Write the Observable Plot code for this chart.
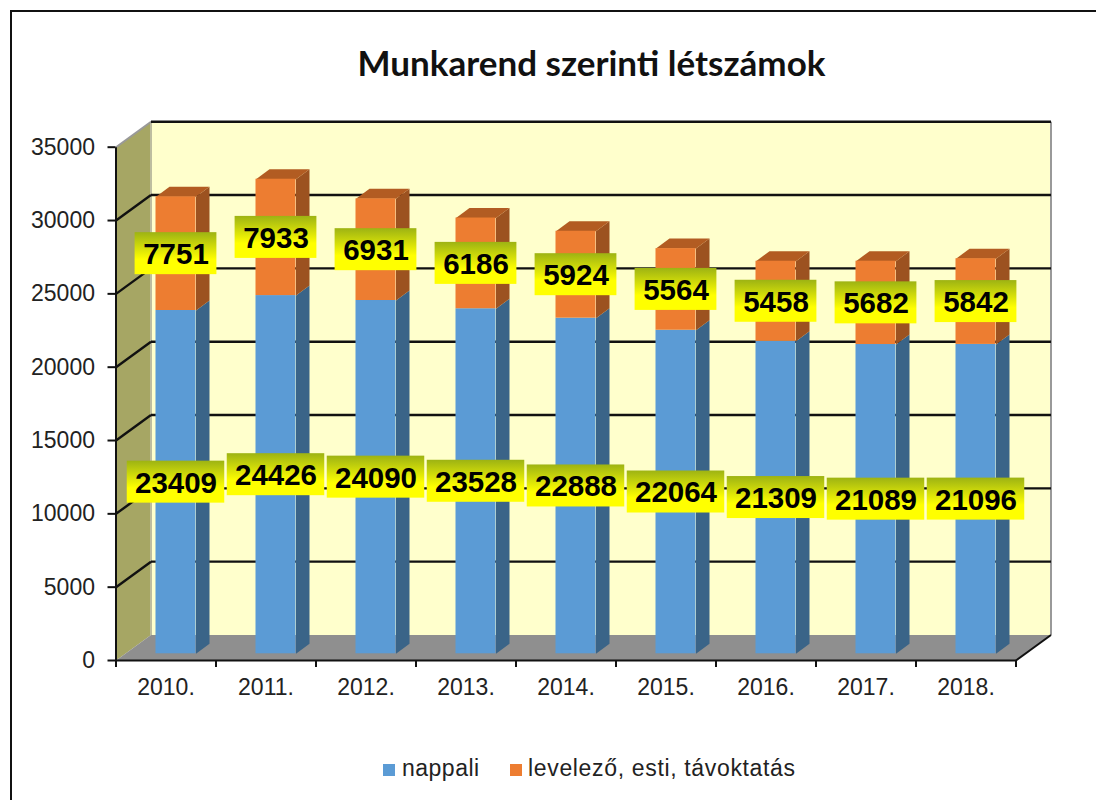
<!DOCTYPE html>
<html>
<head>
<meta charset="utf-8">
<script src="https://cdn.jsdelivr.net/npm/d3@7"></script>
<script src="https://cdn.jsdelivr.net/npm/@observablehq/plot@0.6"></script>
<style>
html,body{margin:0;padding:0;background:#fff;}
#page{position:relative;width:1096px;height:800px;overflow:hidden;}
#frame{position:absolute;left:10px;top:10px;width:1100px;height:800px;border:2px solid #111;box-sizing:border-box;border-bottom:none;border-right:none;}
#title{position:absolute;left:0;top:37px;width:1183px;text-align:center;font:700 35px Lato,sans-serif;color:#111;line-height:50px;}
#chart{position:absolute;left:0;top:100px;}
.lg{position:absolute;top:754px;font:23px "Liberation Sans",Arial,sans-serif;color:#222;line-height:28px;white-space:nowrap;letter-spacing:.5px}
.sw{position:absolute;top:764px;width:12px;height:12px;}
</style>
</head>
<body>
<div id="page">
  <div id="frame"></div>
  <div id="title">Munkarend szerinti létszámok</div>
  <div id="chart"></div>
  <div class="sw" style="left:383px;background:#5B9BD5"></div>
  <div class="lg" style="left:402px">nappali</div>
  <div class="sw" style="left:510px;background:#ED7D31"></div>
  <div class="lg" style="left:528px;letter-spacing:.66px">levelező, esti, távoktatás</div>
</div>
<script>
const years = ["2010.","2011.","2012.","2013.","2014.","2015.","2016.","2017.","2018."];
const nappali = [23409,24426,24090,23528,22888,22064,21309,21089,21096];
const levelezo = [7751,7933,6931,6186,5924,5564,5458,5682,5842];
const yTicks = [0,5000,10000,15000,20000,25000,30000,35000];

// Oblique projection of the 3D chart, in data units of the two scales.
const yMax = 35000, nCat = years.length;
const pxPerUnit = 513.3 / yMax;
const wallDx = 0.35, wallDy = 25.5 / pxPerUnit;
const barW = 0.40, barDx = 0.135, barDy = 10 / pxPerUnit;
const barX0 = 0.40, barY0 = 6.7 / pxPerUnit;
const labelH = 42 / pxPerUnit, digitW = 0.157, labelPad = 0.19;

const quad = (id, pts) => pts.map(([x, y]) => ({id, x, y}));

const sideWall = quad("s", [[0,0],[wallDx,wallDy],[wallDx,yMax+wallDy],[0,yMax]]);
const backWall = quad("b", [[wallDx,wallDy],[nCat+wallDx,wallDy],[nCat+wallDx,yMax+wallDy],[wallDx,yMax+wallDy]]);
const floor = quad("f", [[0,0],[nCat,0],[nCat+wallDx,wallDy],[wallDx,wallDy]]);

const segments = [];
years.forEach((year, i) => {
  segments.push({i, kind:"n", y0:0, y1:nappali[i]});
  segments.push({i, kind:"l", y0:nappali[i], y1:nappali[i]+levelezo[i]});
});
const xL = d => d.i + barX0;
const xR = d => d.i + barX0 + barW;
const sides = k => segments.filter(d => d.kind === k).flatMap(d => quad(d.i, [
  [xR(d), d.y0+barY0],[xR(d)+barDx, d.y0+barY0+barDy],[xR(d)+barDx, d.y1+barY0+barDy],[xR(d), d.y1+barY0]
]));
const tops = segments.filter(d => d.kind === "l").flatMap(d => quad(d.i, [
  [xL(d), d.y1+barY0],[xR(d), d.y1+barY0],[xR(d)+barDx, d.y1+barY0+barDy],[xL(d)+barDx, d.y1+barY0+barDy]
]));
const labels = segments.map(d => {
  const text = String(d.y1 - d.y0);
  const half = (text.length * digitW + labelPad) / 2;
  const cx = d.i + barX0 + barW/2, cy = (d.y0 + d.y1)/2 + barY0;
  return {text, cx, cy, x1:cx-half, x2:cx+half, y1:cy-labelH/2, y2:cy+labelH/2};
});

const defs = () => {
  const svg = d3.create("svg:g");
  const g = svg.append("defs").append("linearGradient").attr("id","lab").attr("x1",0).attr("y1",0).attr("x2",0).attr("y2",1);
  g.append("stop").attr("offset","0%").attr("stop-color","#9DB313");
  g.append("stop").attr("offset","65%").attr("stop-color","#FFFF00");
  g.append("stop").attr("offset","100%").attr("stop-color","#FFFF00");
  return svg.node();
};
const fillPoly = (data, fill) => Plot.line(data, {x:"x", y:"y", z:"id", fill, stroke:"none"});
const seg = (rows, stroke, strokeWidth = 2) => Plot.link(rows, {x1:"x1", y1:"y1", x2:"x2", y2:"y2", stroke, strokeWidth});

const gridBack = yTicks.filter(d => d>0).map(d => ({x1:wallDx, y1:d+wallDy, x2:nCat+wallDx, y2:d+wallDy}));
const gridSide = yTicks.filter(d => d>0 && d<yMax).map(d => ({x1:0, y1:d, x2:wallDx, y2:d+wallDy}));
const edgeTop = [{x1:0, y1:yMax, x2:wallDx, y2:yMax+wallDy}, {x1:nCat+wallDx, y1:wallDy, x2:nCat+wallDx, y2:yMax+wallDy}];
const edgeAxes = [
  {x1:nCat, y1:0, x2:nCat+wallDx, y2:wallDy},
  {x1:0, y1:0, x2:nCat, y2:0},
  {x1:0, y1:0, x2:0, y2:yMax}
];
const edgeWall = [{x1:wallDx, y1:wallDy, x2:wallDx, y2:yMax+wallDy}];

const chart = Plot.plot({
  width: 1096,
  height: 620,
  marginLeft: 115.5,
  marginRight: 80.5,
  marginTop: 46.7,
  marginBottom: 60,
  style: {background:"transparent", fontFamily:'"Liberation Sans",Arial,sans-serif', overflow:"visible"},
  x: {type:"linear", domain:[0,nCat]},
  y: {type:"linear", domain:[0,yMax]},
  marks: [
    defs,
    fillPoly(backWall, "#FFFFCC"),
    fillPoly(sideWall, "#A6A664"),
    fillPoly(floor, "#8F8F8F"),
    seg(edgeWall, "#BDBDA0"),
    seg(edgeTop, "#999"),
    seg(gridBack, "#111", 2.4),
    seg(gridSide, "#111", 2.4),
    fillPoly(sides("n"), "#3A6488"),
    fillPoly(sides("l"), "#9C5220"),
    fillPoly(tops, "#B25C22"),
    Plot.rect(segments.filter(d=>d.kind==="n"), {x1:xL, x2:xR, y1:d=>d.y0+barY0, y2:d=>d.y1+barY0, fill:"#5B9BD5"}),
    Plot.rect(segments.filter(d=>d.kind==="l"), {x1:xL, x2:xR, y1:d=>d.y0+barY0, y2:d=>d.y1+barY0, fill:"#ED7D31"}),
    seg(edgeAxes, "#111"),
    Plot.axisY({ticks:yTicks, tickSize:8, tickPadding:13, tickFormat:d=>String(d), fontSize:23, label:null, stroke:"#111", strokeWidth:2, color:"#222"}),
    Plot.axisX({ticks:d3.range(nCat+1), tickSize:7, tickFormat:()=>"", label:null, stroke:"#111", strokeWidth:2}),
    Plot.axisX({ticks:years.map((d,i)=>i+0.5), tickSize:0, tickPadding:18, tickFormat:d=>years[Math.floor(d)], fontSize:23, label:null, color:"#222"}),
    Plot.rect(labels, {x1:"x1", x2:"x2", y1:"y1", y2:"y2", fill:"url(#lab)"}),
    Plot.text(labels, {x:"cx", y:"cy", dy:1, text:"text", fontSize:29.5, fontWeight:700, fill:"#000"})
  ]
});
document.getElementById("chart").appendChild(chart);
</script>
</body>
</html>
